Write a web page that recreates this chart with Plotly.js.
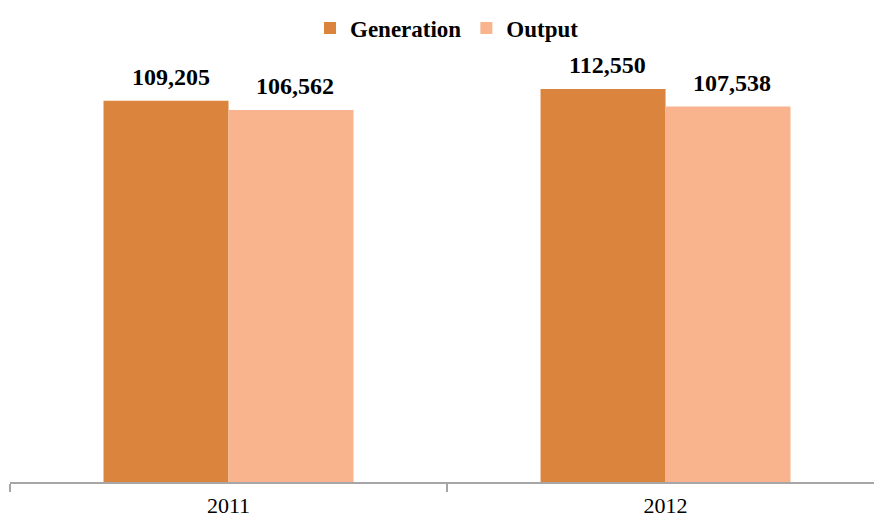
<!DOCTYPE html>
<html><head><meta charset="utf-8">
<script src="https://cdn.plot.ly/plotly-3.0.1.min.js"></script>
<style>html,body{margin:0;padding:0;background:#fff}#c{width:874px;height:520px}</style>
</head><body><div id="c"></div>
<script>
const years = ['2011', '2012'];
const generation = [109205, 112550];
const output = [106562, 107538];
const seriesNames = ['Generation', 'Output'];
const colors = ['#DB843D', '#F9B48E'];

const fontFam = '"Liberation Serif", "Times New Roman", serif';
const fmt = v => v.toLocaleString('en-US');

const traces = [generation, output].map((vals, i) => ({
  type: 'bar', x: years, y: vals, name: seriesNames[i],
  marker: {color: colors[i], line: {width: 0}},
  offsetgroup: String(i), hoverinfo: 'none'
}));

const annotations = [];
[generation, output].forEach((vals, i) => {
  vals.forEach((v, j) => {
    annotations.push({
      x: j, y: v, xref: 'x', yref: 'y', text: fmt(v), showarrow: false,
      xshift: (i === 0 ? -62 : 62) + 4, yshift: 24,
      font: {family: fontFam, size: 24, color: '#000', weight: 'bold'}
    });
  });
});

Plotly.newPlot('c', traces, {
  width: 874, height: 520,
  margin: {l: 10, r: 0, t: 63, b: 38, autoexpand: false},
  paper_bgcolor: '#fff', plot_bgcolor: '#fff',
  bargap: 0.428, bargroupgap: 0,
  showlegend: true,
  legend: {orientation: 'h', x: 0.5 + 10/874, xanchor: 'center', xref: 'container', yref: 'container', y: 1 - 28/520, yanchor: 'middle',
    font: {family: fontFam, size: 23, color: '#000', weight: 'bold'}},
  xaxis: {type: 'category', range: [-0.5, 1.477], showline: true, linecolor: '#A6A6A6', linewidth: 1.5,
    ticks: 'outside', tickson: 'boundaries', ticklen: 8, tickcolor: '#A6A6A6', tickwidth: 1.5,
    ticklabelstandoff: 3,
    showgrid: false, zeroline: false,
    tickfont: {family: fontFam, size: 22, color: '#000'}},
  yaxis: {range: [0, 120000], visible: false, showgrid: false, zeroline: false},
  annotations: annotations
}, {displayModeBar: false, staticPlot: true});
</script></body></html>
